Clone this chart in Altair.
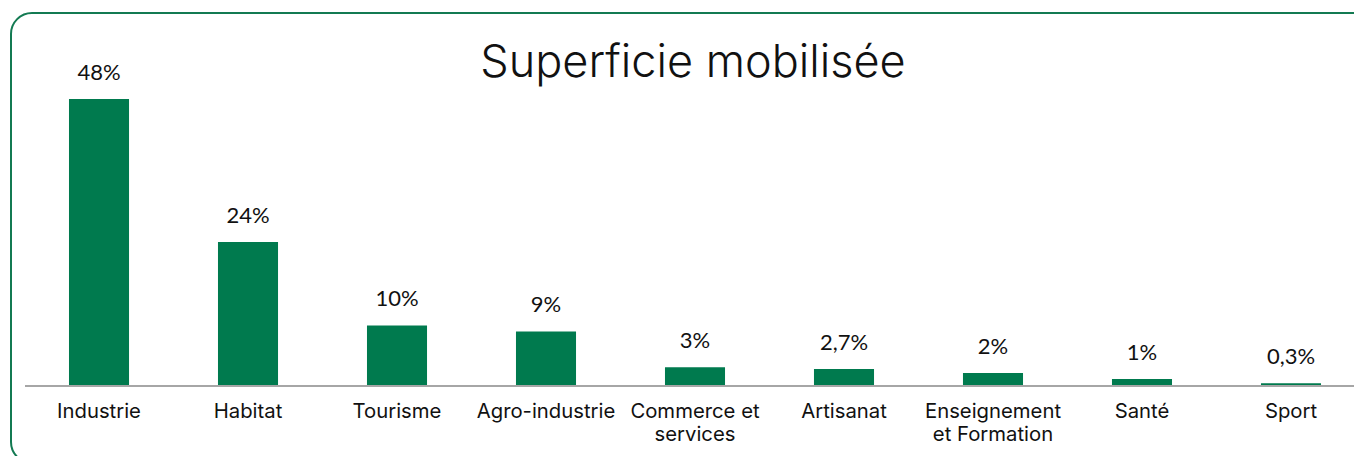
import altair as alt
import pandas as pd

categories = ["Industrie", "Habitat", "Tourisme", "Agro-industrie",
              "Commerce et\nservices", "Artisanat",
              "Enseignement\net Formation", "Santé", "Sport"]
values = [48, 24, 10, 9, 3, 2.7, 2, 1, 0.3]
value_labels = ["48%", "24%", "10%", "9%", "3%", "2,7%", "2%", "1%", "0,3%"]
title_text = ["Superficie mobilisée"]

GREEN = "#007a4e"
df = pd.DataFrame({"cat": categories, "val": values, "lab": value_labels})

W, H = 1286, 286

x = alt.X("cat:N", sort=categories, title=None,
          scale=alt.Scale(paddingInner=0.597, paddingOuter=0.114),
          axis=alt.Axis(labelAngle=0, domain=False, ticks=False, tickSize=0,
                        labelPadding=16, labelFont="Inter", labelFontSize=20.3,
                        labelColor="#111111", labelLineHeight=23,
                        labelExpr="split(datum.label, '\\n')"))
y = alt.Y("val:Q", title=None, scale=alt.Scale(domain=[0, 48], nice=False, zero=True),
          axis=None)

base = alt.Chart(df)
bars = base.mark_bar(color=GREEN).encode(x=x, y=y)
texts = base.mark_text(font="Lato", fontSize=22, dy=-19, baseline="alphabetic",
                       color="#111111").encode(x=x, y=y, text="lab:N")

one = alt.Chart(pd.DataFrame({"t": title_text}))
baseline = one.mark_rule(color="#a6a6a6", strokeWidth=2).encode(
    x=alt.value(-27), x2=alt.value(1340), y=alt.value(H + 1))
frame = one.mark_rect(fill=None, stroke="#137a52", strokeWidth=2,
                      cornerRadius=21).encode(
    x=alt.value(-41), x2=alt.value(1321), y=alt.value(-86), y2=alt.value(364))
title = one.mark_text(font="Inter", fontSize=45, fontWeight=300, color="#111111",
                      baseline="alphabetic", align="center").encode(
    x=alt.value(641), y=alt.value(-22), text="t:N")

chart = alt.layer(frame, baseline, bars, texts, title).properties(
    width=W, height=H,
    autosize=alt.AutoSizeParams(type="none"),
    padding={"left": 44, "top": 91, "right": 16, "bottom": 71},
).configure_view(stroke=None)

chart.save("out.html", embed_options={"renderer": "svg", "actions": False})
